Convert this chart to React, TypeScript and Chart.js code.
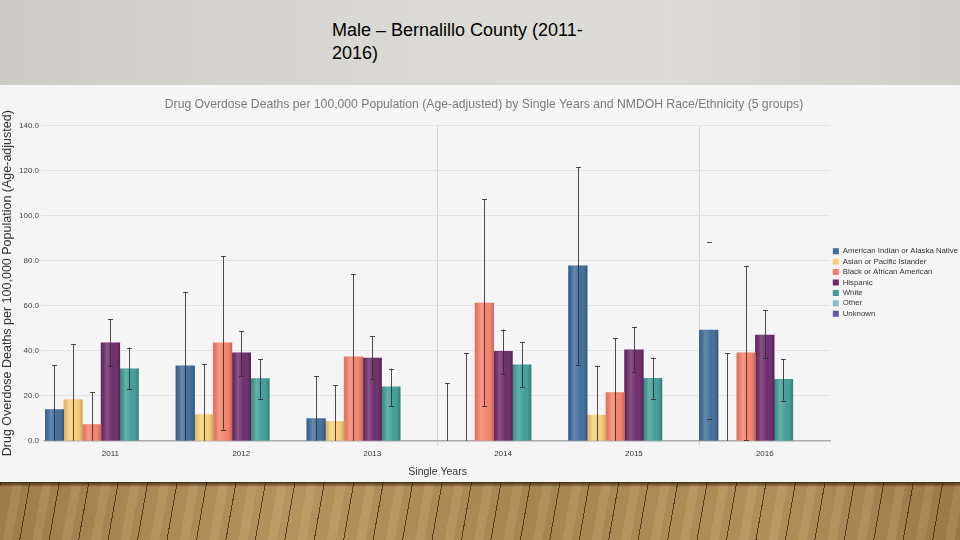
import React, { useEffect, useRef } from "react";
import { Chart, registerables } from "chart.js";
Chart.register(...registerables);

const slideTitleLines = ["Male – Bernalillo County (2011-", "2016)"];
const chartTitle =
  "Drug Overdose Deaths per 100,000 Population (Age-adjusted) by Single Years and NMDOH Race/Ethnicity (5 groups)";
const yAxisTitle = "Drug Overdose Deaths per 100,000 Population (Age-adjusted)";
const xAxisTitle = "Single Years";

const years = ["2011", "2012", "2013", "2014", "2015", "2016"];
const seriesNames = [
  "American Indian or Alaska Native",
  "Asian or Pacific Islander",
  "Black or African American",
  "Hispanic",
  "White",
  "Other",
  "Unknown",
];
const seriesColors = ["#3e6c9b", "#f9cf78", "#f6806a", "#6c2869", "#3f9d96", "#8fb8d8", "#6a55a3"];

const aian = [13.9, 33.3, 9.9, null, 77.7, 49.2];
const api = [18.3, 11.7, 8.6, null, 11.4, null];
const black = [7.2, 43.5, 37.3, 61.2, 21.4, 39.1];
const hispanic = [43.5, 39.1, 36.7, 39.7, 40.4, 47.0];
const white = [32.0, 27.6, 24.0, 33.8, 27.7, 27.3];
const other = [null, null, null, null, null, null];
const unknown = [null, null, null, null, null, null];

const aianLow = [0, 0, 0, 0, 33.8, 9.6];
const aianHigh = [33.6, 66.0, 28.7, 25.6, 121.6, 88.4];
const apiLow = [0, 0, 0, 0, 0, 0];
const apiHigh = [43.0, 34.2, 24.6, 39.1, 33.3, 38.8];
const blackLow = [0, 5.0, 0, 15.3, 0, 0.5];
const blackHigh = [21.5, 82.1, 74.1, 107.3, 45.7, 77.7];
const hispanicLow = [33.2, 28.7, 27.3, 29.5, 30.5, 36.6];
const hispanicHigh = [54.1, 48.6, 46.4, 49.4, 50.6, 58.1];
const whiteLow = [22.9, 18.7, 15.5, 23.9, 18.7, 17.9];
const whiteHigh = [41.4, 36.3, 32.1, 43.9, 36.9, 36.3];

// error bars whose vertical stem is not drawn in the original (only caps)
const capsOnly = [[0, 5]];

const yMin = 0;
const yMax = 140;
const yStep = 20;

const seriesValues = [aian, api, black, hispanic, white, other, unknown];
const seriesLow = [aianLow, apiLow, blackLow, hispanicLow, whiteLow, null, null];
const seriesHigh = [aianHigh, apiHigh, blackHigh, hispanicHigh, whiteHigh, null, null];

const SANS = "'Liberation Sans', Arial, sans-serif";

const barShadePlugin = {
  id: "barShade",
  afterDatasetsDraw(chart: any) {
    const ctx = chart.ctx;
    chart.data.datasets.forEach((_ds: any, i: number) => {
      const meta = chart.getDatasetMeta(i);
      meta.data.forEach((el: any, j: number) => {
        const v = chart.data.datasets[i].data[j];
        if (v == null) return;
        const p = el.getProps(["x", "y", "base", "width"], true);
        const left = p.x - p.width / 2;
        const g = ctx.createLinearGradient(left, 0, left + p.width, 0);
        g.addColorStop(0, "rgba(0,0,0,0.10)");
        g.addColorStop(0.3, "rgba(255,255,255,0.20)");
        g.addColorStop(0.65, "rgba(255,255,255,0.02)");
        g.addColorStop(1, "rgba(0,0,0,0.22)");
        ctx.save();
        ctx.fillStyle = g;
        ctx.fillRect(left, p.y, p.width, p.base - p.y);
        ctx.restore();
      });
    });
  },
};

const errorBarPlugin = {
  id: "errorBars",
  afterDatasetsDraw(chart: any) {
    const ctx = chart.ctx;
    const yScale = chart.scales.y;
    ctx.save();
    ctx.strokeStyle = "rgba(45,45,45,0.85)";
    ctx.lineWidth = 1;
    seriesLow.forEach((lows, i) => {
      const highs = seriesHigh[i];
      if (!lows || !highs) return;
      const meta = chart.getDatasetMeta(i);
      meta.data.forEach((el: any, j: number) => {
        const x = Math.round(el.x) + 0.5;
        const yl = yScale.getPixelForValue(lows[j]);
        const yh = yScale.getPixelForValue(highs[j]);
        const stem = !capsOnly.some((c) => c[0] === i && c[1] === j);
        ctx.beginPath();
        if (stem) {
          ctx.moveTo(x, yl);
          ctx.lineTo(x, yh);
        }
        ctx.moveTo(x - 2.5, Math.round(yh) + 0.5);
        ctx.lineTo(x + 2.5, Math.round(yh) + 0.5);
        if (lows[j] > 0) {
          ctx.moveTo(x - 2.5, Math.round(yl) + 0.5);
          ctx.lineTo(x + 2.5, Math.round(yl) + 0.5);
        }
        ctx.stroke();
      });
    });
    ctx.restore();
  },
};

function ChartCanvas() {
  const ref = useRef<HTMLCanvasElement | null>(null);
  useEffect(() => {
    if (!ref.current) return;
    const chart = new Chart(ref.current, {
      type: "bar",
      data: {
        labels: years,
        datasets: seriesNames.map((name, i) => ({
          label: name,
          data: seriesValues[i] as any,
          backgroundColor: seriesColors[i],
          borderWidth: 0,
          categoryPercentage: 1,
          barPercentage: 1,
        })),
      },
      options: {
        animation: false,
        responsive: false,
        maintainAspectRatio: false,
        layout: { padding: { left: 0, right: 2, top: 2, bottom: 4 } },
        plugins: {
          title: {
            display: true,
            text: chartTitle,
            color: "#7a7a7a",
            font: { family: SANS, size: 12.2, weight: "normal" },
            padding: { top: 10, bottom: 14 },
          },
          legend: {
            position: "right",
            labels: {
              boxWidth: 6,
              boxHeight: 6,
              padding: 2.6,
              color: "#333",
              font: { family: SANS, size: 7.8 },
            },
          },
          tooltip: { enabled: false },
        },
        scales: {
          x: {
            grid: {
              offset: true,
              color: (c: any) => (c.index === 3 || c.index === 5 || c.index === 6 ? "#d6d6d6" : "rgba(0,0,0,0)"),
              tickLength: 5,
            },
            border: { display: true, color: "#a9a9a9", width: 1.5 },
            ticks: { color: "#333", font: { family: SANS, size: 8 }, padding: 3 },
            title: {
              display: true,
              text: xAxisTitle,
              color: "#333",
              font: { family: SANS, size: 10.5 },
              padding: { top: 4, bottom: 0 },
            },
          },
          y: {
            min: yMin,
            max: yMax,
            ticks: {
              stepSize: yStep,
              color: "#444",
              font: { family: SANS, size: 8 },
              padding: 2,
              callback: (v: any) => Number(v).toFixed(1),
            },
            grid: { color: "#e3e3e3", tickLength: 4 },
            border: { display: false },
            title: {
              display: true,
              text: yAxisTitle,
              color: "#333",
              font: { family: SANS, size: 12.5 },
              padding: { top: 0, bottom: 2 },
            },
          },
        },
      },
      plugins: [barShadePlugin, errorBarPlugin],
    });
    return () => chart.destroy();
  }, []);
  return <canvas ref={ref} width={970} height={397} style={{ display: "block" }} />;
}

export default function App() {
  return (
    <div style={{ position: "absolute", left: 0, top: 0, width: 960, height: 540, overflow: "hidden" }}>
      <div
        style={{
          position: "absolute",
          left: 0,
          top: 0,
          width: 960,
          height: 85,
          background: "linear-gradient(to right, #cdcbc6 0%, #dcdad6 45%, #dddbd7 70%, #d0cec9 100%)",
        }}
      >
        <div
          style={{
            position: "absolute",
            left: 332,
            top: 19,
            fontFamily: SANS,
            fontSize: 18,
            lineHeight: "23px",
            color: "#000",
          }}
        >
          {slideTitleLines.map((l, i) => (
            <div key={i}>{l}</div>
          ))}
        </div>
      </div>
      <div
        style={{
          position: "absolute",
          left: 0,
          top: 85,
          width: 960,
          height: 397,
          background: "#f5f5f5",
          overflow: "hidden",
        }}
      >
        <ChartCanvas />
      </div>
      <div
        style={{
          position: "absolute",
          left: 0,
          top: 482,
          width: 960,
          height: 58,
          backgroundColor: "#a07c4c",
          backgroundImage:
            "linear-gradient(to bottom, rgba(40,25,10,0.85) 0px, rgba(40,25,10,0.0) 5px), repeating-linear-gradient(100deg, rgba(55,35,15,0.75) 0px, rgba(55,35,15,0.75) 1px, rgba(0,0,0,0) 1px, rgba(0,0,0,0) 13px, rgba(255,230,180,0.12) 13px, rgba(255,230,180,0.12) 22px, rgba(0,0,0,0) 22px, rgba(0,0,0,0) 29px), linear-gradient(to right, #a07a48, #b8925e 30%, #a8844f 55%, #b48e5a 80%, #9c7646)",
        }}
      />
    </div>
  );
}
